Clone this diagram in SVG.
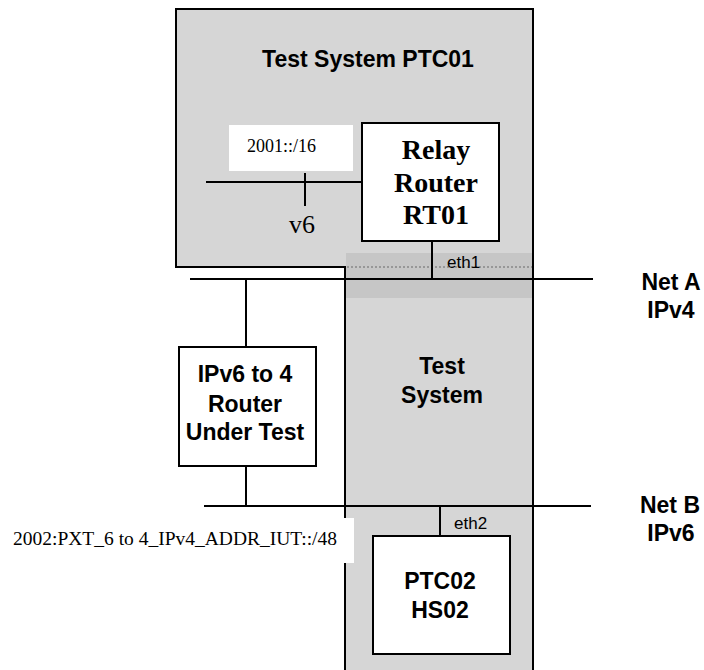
<svg xmlns="http://www.w3.org/2000/svg" width="704" height="670" viewBox="0 0 704 670">
<style>
.box{fill:#ffffff;stroke:#000;stroke-width:2}
.sys{fill:#d6d6d6;stroke:#000;stroke-width:2}
.ln{stroke:#000;stroke-width:2;fill:none}
.lb{font-family:"Liberation Sans",Arial,sans-serif;font-weight:bold;font-size:23px;fill:#000;text-anchor:middle}
.ls{font-family:"Liberation Sans",Arial,sans-serif;font-size:17px;fill:#000}
.ts{font-family:"Liberation Serif","Times New Roman",serif;fill:#000}
.tb{font-family:"Liberation Serif","Times New Roman",serif;font-weight:bold;font-size:28px;fill:#000;text-anchor:middle}
</style>
<rect width="704" height="670" fill="#fff"/>
<g id="test-system-ptc01">
<rect class="sys" x="176" y="9" width="357" height="258"/>
<text class="lb" x="368" y="67">Test System PTC01</text>
</g>
<g id="test-system">
<rect class="sys" x="345" y="267" width="188" height="420"/>
<rect x="346" y="253" width="186" height="45" fill="#c6c6c6"/>
<line x1="347" y1="267" x2="532" y2="267" stroke="#888" stroke-width="1.5" stroke-dasharray="2,2"/>
<line class="ln" x1="533" y1="253" x2="533" y2="298"/>
<text class="lb" x="442" y="374">Test</text>
<text class="lb" x="442" y="403">System</text>
</g>
<g id="prefix-2001">
<rect x="229" y="125" width="124" height="46" fill="#fff"/>
<text class="ts" x="247" y="152" font-size="18">2001::/16</text>
</g>
<g id="relay-router">
<rect class="box" x="362" y="123" width="137" height="118"/>
<text class="tb" x="436" y="159">Relay</text>
<text class="tb" x="436" y="192">Router</text>
<text class="tb" x="436" y="224">RT01</text>
</g>
<g id="iut">
<rect class="box" x="179" y="347" width="137" height="119"/>
<text class="lb" x="245" y="382">IPv6 to 4</text>
<text class="lb" x="245" y="412">Router</text>
<text class="lb" x="245" y="440">Under Test</text>
</g>
<g id="ptc02">
<rect class="box" x="373" y="536" width="137" height="118"/>
<text class="lb" x="440" y="589">PTC02</text>
<text class="lb" x="440" y="618">HS02</text>
</g>
<g id="net-a">
<text class="lb" x="671" y="290">Net A</text>
<text class="lb" x="671" y="318">IPv4</text>
</g>
<g id="net-b">
<text class="lb" x="670" y="513">Net B</text>
<text class="lb" x="671" y="541">IPv6</text>
</g>
<g id="connectors">
<line class="ln" x1="206" y1="182" x2="362" y2="182"/>
<line class="ln" x1="305" y1="173" x2="305" y2="206"/>
<line class="ln" x1="190" y1="279" x2="593" y2="279"/>
<line class="ln" x1="432" y1="241" x2="432" y2="279"/>
<line class="ln" x1="246" y1="279" x2="246" y2="347"/>
<line class="ln" x1="246" y1="466" x2="246" y2="506"/>
<line class="ln" x1="204" y1="506" x2="591" y2="506"/>
<line class="ln" x1="440" y1="506" x2="440" y2="536"/>
<text class="ts" x="289" y="233" font-size="26">v6</text>
<text class="ls" x="447" y="268">eth1</text>
<text class="ls" x="454" y="529">eth2</text>
</g>
<g id="prefix-2002">
<rect x="0" y="518" width="354" height="45" fill="#fff"/>
<text class="ts" x="13" y="545" font-size="19.5">2002:PXT_6 to 4_IPv4_ADDR_IUT::/48</text>
</g>
</svg>
